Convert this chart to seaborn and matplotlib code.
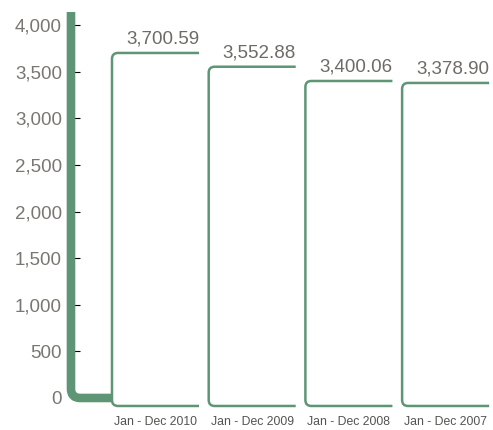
import matplotlib
matplotlib.use("Agg")
import matplotlib.pyplot as plt
import seaborn as sns
import pandas as pd
from matplotlib.path import Path
from matplotlib.patches import PathPatch
from matplotlib.transforms import IdentityTransform

categories = ["Jan - Dec 2010", "Jan - Dec 2009", "Jan - Dec 2008", "Jan - Dec 2007"]
values = [3700.59, 3552.88, 3400.06, 3378.90]
yticks = [0, 500, 1000, 1500, 2000, 2500, 3000, 3500, 4000]

GREEN = "#5e9675"

sns.set_theme(style="white")
plt.rcParams['font.family'] = ['Liberation Sans', 'DejaVu Sans']

fig = plt.figure(figsize=(4.93, 4.30), dpi=100)
ax = fig.add_axes([0.144, 0.0528, 0.856, 0.9193])
df = pd.DataFrame({"period": categories, "value": values})
sns.barplot(data=df, x="period", y="value", ax=ax, width=0.9, color=GREEN)
for p in ax.patches:
    p.set_facecolor("none")
    p.set_edgecolor("none")

ax.set_xlim(-0.874, 3.49)
ax.set_ylim(-100, 4140)
ax.set_autoscale_on(False)
ax.set_yticks(yticks)
ax.set_yticklabels([f"{v:,}" for v in yticks])
ax.set_xlabel("")
ax.set_ylabel("")
for s in ax.spines.values():
    s.set_visible(False)
ax.tick_params(axis='y', left=True, direction='in', length=6.5, width=0.8,
               color='black', pad=6.5, labelsize=13.5, labelcolor='#7a7772')
ax.tick_params(axis='x', bottom=False, length=0, pad=6.5, labelsize=8.8,
               labelcolor='#555350')

# thick axis line with rounded corner
tr = ax.transData
xl, ytop = ax.transAxes.transform((0, 1))
patches = ax.patches
bar0_left = tr.transform((patches[0].get_x(), 0))[0]
y0 = tr.transform((0, 0))[1]
r = 9
verts = [(xl, ytop), (xl, y0 + r), (xl, y0), (xl + r, y0), (bar0_left, y0)]
codes = [Path.MOVETO, Path.LINETO, Path.CURVE3, Path.CURVE3, Path.LINETO]
ax.add_artist(PathPatch(Path(verts, codes), transform=IdentityTransform(), fill=False,
                        edgecolor=GREEN, linewidth=6.2, capstyle='butt',
                        joinstyle='round', clip_on=False))

# bracket-shaped bars
rb = 6
for p, v in zip(patches, values):
    left, top = tr.transform((p.get_x(), p.get_height()))
    right = tr.transform((p.get_x() + p.get_width(), 0))[0]
    bot = y0 - 8
    verts = [(right, top), (left + rb, top), (left, top), (left, top - rb),
             (left, bot + rb), (left, bot), (left + rb, bot), (right, bot)]
    codes = [Path.MOVETO, Path.LINETO, Path.CURVE3, Path.CURVE3,
             Path.LINETO, Path.CURVE3, Path.CURVE3, Path.LINETO]
    ax.add_artist(PathPatch(Path(verts, codes), transform=IdentityTransform(),
                            fill=False, edgecolor=GREEN, linewidth=1.8,
                            capstyle='butt', clip_on=False))
    ax.annotate(f"{v:,.2f}", xy=(p.get_x() + p.get_width(), p.get_height()),
                xytext=(0, 6.5), textcoords='offset points', ha='right',
                va='baseline', fontsize=13.5, color='#6e6b66')

fig.savefig("out.png", dpi=100)
